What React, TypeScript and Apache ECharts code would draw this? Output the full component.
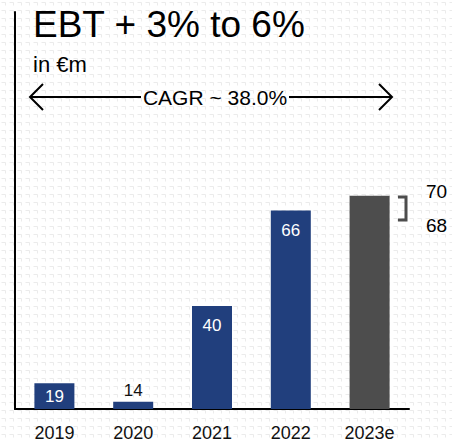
import React, { useEffect, useRef } from "react";
import * as echarts from "echarts";

const categories = ["2019", "2020", "2021", "2022", "2023e"];
const ebt = [19, 14, 40, 66, 70];
const estimateRange = [70, 68];
const title = "EBT + 3% to 6%";
const unit = "in €m";
const cagrText = "CAGR ~ 38.0%";

const BLUE = "#213f7d";
const GRAY = "#4d4d4d";
const FONT = "Liberation Sans, Arial, sans-serif";

const patternSvg =
  "data:image/svg+xml;utf8," +
  encodeURIComponent(
    '<svg xmlns="http://www.w3.org/2000/svg" width="8" height="8"><path d="M1.5 2.5 H5.5 V5.5" fill="none" stroke="#ebebeb" stroke-width="1"/></svg>'
  );

export default function App() {
  const ref = useRef<HTMLDivElement>(null);
  useEffect(() => {
    if (!ref.current) return;
    const chart = echarts.init(ref.current, null, { renderer: "svg" });
    const labelFor = (i: number) => {
      if (i === 4) return { show: false };
      if (ebt[i] < 16)
        return { show: true, position: "top", distance: 3, color: "#111", fontSize: 17, fontFamily: FONT };
      if (ebt[i] < 25)
        return { show: true, position: "inside", color: "#fff", fontSize: 17, fontFamily: FONT };
      return { show: true, position: "insideTop", distance: 11, color: "#fff", fontSize: 17, fontFamily: FONT };
    };
    chart.setOption({
      animation: false,
      backgroundColor: "transparent",
      grid: { left: 15, right: 43, top: 12, bottom: 32 },
      xAxis: {
        type: "category",
        data: categories,
        axisLine: { show: true, lineStyle: { color: "#000", width: 2 } },
        axisTick: { show: false },
        axisLabel: { color: "#111", fontSize: 18, fontFamily: FONT, margin: 15 },
      },
      yAxis: {
        type: "value",
        min: 12,
        max: 120,
        axisLine: { show: true, lineStyle: { color: "#000", width: 2 } },
        axisTick: { show: false },
        axisLabel: { show: false },
        splitLine: { show: false },
      },
      series: [
        {
          type: "bar",
          barWidth: 40,
          data: ebt.map((v, i) => ({
            value: v,
            itemStyle: { color: i === 4 ? GRAY : BLUE },
            label: labelFor(i),
          })),
        },
      ],
      graphic: [
        {
          type: "text",
          left: 33,
          top: 6,
          style: { text: title, fontSize: 37, fontFamily: FONT, fill: "#000" },
        },
        {
          type: "text",
          left: 33,
          top: 53,
          style: { text: unit, fontSize: 22, fontFamily: FONT, fill: "#000" },
        },
        {
          type: "polyline",
          shape: { points: [[43, 84], [30, 97], [43, 110]] },
          style: { stroke: "#000", lineWidth: 2, fill: null },
        },
        {
          type: "line",
          shape: { x1: 30, y1: 97, x2: 141, y2: 97 },
          style: { stroke: "#000", lineWidth: 2 },
        },
        {
          type: "line",
          shape: { x1: 289, y1: 97, x2: 392, y2: 97 },
          style: { stroke: "#000", lineWidth: 2 },
        },
        {
          type: "polyline",
          shape: { points: [[379, 84], [392, 97], [379, 110]] },
          style: { stroke: "#000", lineWidth: 2, fill: null },
        },
        {
          type: "text",
          x: 215,
          y: 97,
          style: {
            text: cagrText,
            fontSize: 21,
            fontFamily: FONT,
            fill: "#000",
            align: "center",
            verticalAlign: "middle",
          },
        },
        {
          type: "polyline",
          shape: { points: [[398, 197], [406, 197], [406, 220], [398, 220]] },
          style: { stroke: GRAY, lineWidth: 3, fill: null },
        },
        {
          type: "text",
          x: 426,
          y: 191,
          style: {
            text: String(estimateRange[0]),
            fontSize: 19,
            fontFamily: FONT,
            fill: "#000",
            verticalAlign: "middle",
          },
        },
        {
          type: "text",
          x: 426,
          y: 225,
          style: {
            text: String(estimateRange[1]),
            fontSize: 19,
            fontFamily: FONT,
            fill: "#000",
            verticalAlign: "middle",
          },
        },
      ],
    });
    return () => chart.dispose();
  }, []);
  return (
    <div
      style={{
        position: "absolute",
        left: 0,
        top: 0,
        width: 452,
        height: 442,
        backgroundColor: "#fff",
        backgroundImage: `url("${patternSvg}")`,
      }}
    >
      <div ref={ref} style={{ width: 452, height: 442 }} />
    </div>
  );
}
